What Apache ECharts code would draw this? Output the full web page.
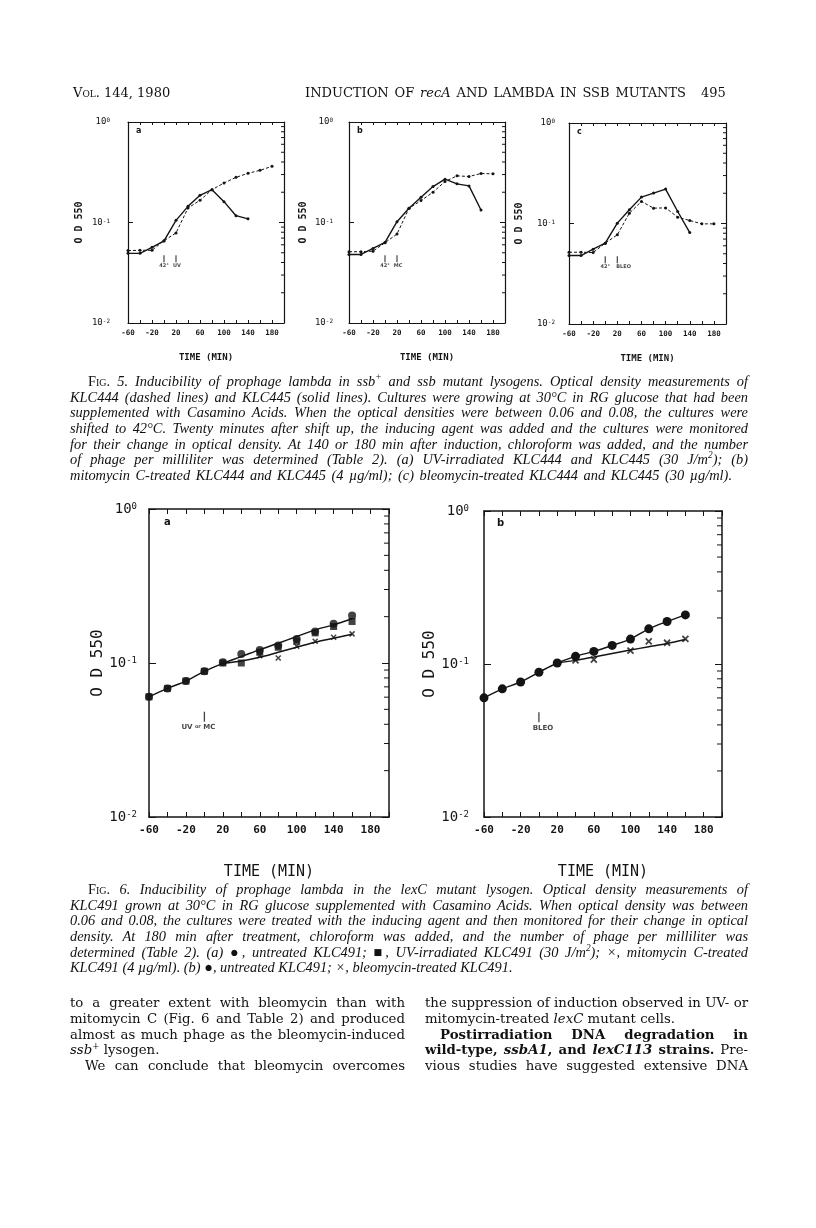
<!DOCTYPE html>
<html>
<head>
<meta charset="utf-8">
<script src="https://cdn.jsdelivr.net/npm/echarts@6/dist/echarts.min.js"></script>
<style>
  body { margin: 0; background: #fff; }
  #page { position: relative; width: 816px; height: 1228px; overflow: hidden; background: #fff; }
  #chart { position: absolute; left: 0; top: 0; width: 816px; height: 1228px; }
  .ln { position: absolute; white-space: nowrap; line-height: 16px; color: #111; text-align: justify; text-align-last: justify; }
  .end { text-align: left; text-align-last: left; }
  .cap { font-family: 'Liberation Serif', serif; font-style: italic; font-size: 14.4px; }
  .body { font-family: 'DejaVu Serif', serif; font-size: 13.3px; }
  .hd { font-family: 'DejaVu Serif', serif; font-size: 13px; }
  .sc { font-style: normal; font-variant: small-caps; }
  sup { font-size: 65%; line-height: 0; }
</style>
</head>
<body>
<div id="page">
  <div id="chart"></div>

  <div class="ln hd end" style="left:73px; top:85px;"><span style="font-variant:small-caps">Vol.</span> 144, 1980</div>
  <div class="ln hd" style="left:305px; width:381px; top:85px;">INDUCTION OF <i>recA</i> AND LAMBDA IN SSB MUTANTS</div>
  <div class="ln hd end" style="left:701px; top:85px;">495</div>

  <div class="ln cap" style="left:88px; width:660px; top:373px;"><span class="sc">Fig.</span> 5. Inducibility of prophage lambda in ssb<sup>+</sup> and ssb mutant lysogens. Optical density measurements of</div>
  <div class="ln cap" style="left:70px; width:678px; top:389px;">KLC444 (dashed lines) and KLC445 (solid lines). Cultures were growing at 30°C in RG glucose that had been</div>
  <div class="ln cap" style="left:70px; width:678px; top:404px;">supplemented with Casamino Acids. When the optical densities were between 0.06 and 0.08, the cultures were</div>
  <div class="ln cap" style="left:70px; width:678px; top:420px;">shifted to 42°C. Twenty minutes after shift up, the inducing agent was added and the cultures were monitored</div>
  <div class="ln cap" style="left:70px; width:678px; top:436px;">for their change in optical density. At 140 or 180 min after induction, chloroform was added, and the number</div>
  <div class="ln cap" style="left:70px; width:678px; top:451px;">of phage per milliliter was determined (Table 2). (a) UV-irradiated KLC444 and KLC445 (30 J/m<sup>2</sup>); (b)</div>
  <div class="ln cap" style="left:70px; width:662px; top:467px;">mitomycin C-treated KLC444 and KLC445 (4 µg/ml); (c) bleomycin-treated KLC444 and KLC445 (30 µg/ml).</div>

  <div class="ln cap" style="left:88px; width:660px; top:881px;"><span class="sc">Fig.</span> 6. Inducibility of prophage lambda in the lexC mutant lysogen. Optical density measurements of</div>
  <div class="ln cap" style="left:70px; width:678px; top:897px;">KLC491 grown at 30°C in RG glucose supplemented with Casamino Acids. When optical density was between</div>
  <div class="ln cap" style="left:70px; width:678px; top:912px;">0.06 and 0.08, the cultures were treated with the inducing agent and then monitored for their change in optical</div>
  <div class="ln cap" style="left:70px; width:678px; top:928px;">density. At 180 min after treatment, chloroform was added, and the number of phage per milliliter was</div>
  <div class="ln cap" style="left:70px; width:678px; top:944px;">determined (Table 2). (a) ●, untreated KLC491; ■, UV-irradiated KLC491 (30 J/m<sup>2</sup>); ×, mitomycin C-treated</div>
  <div class="ln cap end" style="left:70px; top:959px;">KLC491 (4 µg/ml). (b) ●, untreated KLC491; ×, bleomycin-treated KLC491.</div>

  <div class="ln body" style="left:70px; width:335px; top:995px;">to a greater extent with bleomycin than with</div>
  <div class="ln body" style="left:70px; width:335px; top:1011px;">mitomycin C (Fig. 6 and Table 2) and produced</div>
  <div class="ln body" style="left:70px; width:335px; top:1027px;">almost as much phage as the bleomycin-induced</div>
  <div class="ln body end" style="left:70px; top:1042px;"><i>ssb</i><sup>+</sup> lysogen.</div>
  <div class="ln body" style="left:85px; width:320px; top:1058px;">We can conclude that bleomycin overcomes</div>

  <div class="ln body" style="left:425px; width:323px; top:995px;">the suppression of induction observed in UV- or</div>
  <div class="ln body end" style="left:425px; top:1011px;">mitomycin-treated <i>lexC</i> mutant cells.</div>
  <div class="ln body" style="left:440px; width:308px; top:1027px; font-weight:bold;">Postirradiation DNA degradation in</div>
  <div class="ln body" style="left:425px; width:323px; top:1042px;"><b>wild-type, <i>ssbA1</i>, and <i>lexC113</i> strains.</b> Pre-</div>
  <div class="ln body" style="left:425px; width:323px; top:1058px;">vious studies have suggested extensive DNA</div>
</div>

<script>
// Fig. 5: time after shift (min) and OD550
var fig5Time = [-60, -40, -20, 0, 20, 40, 60, 80, 100, 120, 140, 160, 180];
var fig5aTimeSolid = [-60, -40, -20, 0, 20, 40, 60, 80, 100, 120, 140];
var fig5bTimeSolid = [-60, -40, -20, 0, 20, 40, 60, 80, 100, 120, 140, 160];
var fig5cTimeSolid = [-60, -40, -20, 0, 20, 40, 60, 80, 100, 120, 140];

var fig5aDashed = [0.0525, 0.0529, 0.0529, 0.0660, 0.0786, 0.1394, 0.1662, 0.2122, 0.2472, 0.2814, 0.3084, 0.3304, 0.3621];
var fig5aSolid = [0.0493, 0.0493, 0.0566, 0.0655, 0.1050, 0.1448, 0.1864, 0.2122, 0.1612, 0.1169, 0.1087];
var fig5bDashed = [0.0512, 0.0512, 0.0519, 0.0629, 0.0768, 0.1385, 0.1652, 0.2001, 0.2557, 0.2912, 0.2869, 0.3072, 0.3049];
var fig5bSolid = [0.0481, 0.0481, 0.0552, 0.0634, 0.1019, 0.1385, 0.1784, 0.2279, 0.2698, 0.2424, 0.2314, 0.1332];
var fig5cDashed = [0.0518, 0.0518, 0.0514, 0.0637, 0.0771, 0.1268, 0.1657, 0.1422, 0.1430, 0.1156, 0.1071, 0.0992, 0.0992];
var fig5cSolid = [0.0480, 0.0480, 0.0555, 0.0637, 0.1008, 0.1368, 0.1830, 0.2006, 0.2199, 0.1317, 0.0813];

// Fig. 6
var fig6Time = [-60, -40, -20, 0, 20, 40, 60, 80, 100, 120, 140, 160];
var fig6aCircle = [0.0603, 0.0684, 0.0763, 0.0883, 0.1010, 0.1145, 0.1216, 0.1297, 0.1434, 0.1601, 0.1796, 0.2035];
var fig6aSquare = [0.0603, 0.0684, 0.0763, 0.0883, 0.1000, 0.1000, 0.1174, 0.1265, 0.1385, 0.1569, 0.1726, 0.1860];
var fig6aCrossTime = [60, 80, 100, 120, 140, 160];
var fig6aCross = [0.1116, 0.1078, 0.1284, 0.1385, 0.1470, 0.1546];
var fig6aUpperLine = [0.0603, 0.0684, 0.0763, 0.0883, 0.0995, 0.1100, 0.1222, 0.1344, 0.1485, 0.1641, 0.1769, 0.1936];
var fig6LowerTime = [20, 40, 60, 80, 100, 120, 140, 160];
var fig6aLowerLine = [0.0995, 0.1030, 0.1089, 0.1174, 0.1265, 0.1364, 0.1448, 0.1538];

var fig6bCircle = [0.0601, 0.0688, 0.0763, 0.0883, 0.1015, 0.1122, 0.1209, 0.1323, 0.1455, 0.1698, 0.1895, 0.2094];
var fig6bCrossTime = [40, 60, 100, 120, 140, 160];
var fig6bCross = [0.1056, 0.1067, 0.1221, 0.1405, 0.1377, 0.1462];
var fig6bLowerLine = [0.1015, 0.1056, 0.1110, 0.1173, 0.1234, 0.1297, 0.1363, 0.1447];

// axis furniture
var xTickLabels = [-60, -20, 20, 60, 100, 140, 180];
var logMinorTicks = [0.02, 0.03, 0.04, 0.05, 0.06, 0.07, 0.08, 0.09, 0.2, 0.3, 0.4, 0.5, 0.6, 0.7, 0.8, 0.9];

var INK = '#141414';
var MONO = "'DejaVu Sans Mono', monospace";

function pairs(ts, vs) {
    return ts.map(function (t, i) { return [t, vs[i]]; });
}

var grids = [], xAxes = [], yAxes = [], series = [], graphics = [];

function addPanel(box, big, nameGapY) {
    var idx = grids.length;
    grids.push({ left: box[0], top: box[1], width: box[2], height: box[3] });
    var lw = big ? 1.5 : 1.2;
    var common = {
        gridIndex: idx, type: 'value', min: -60, max: 200, interval: 20,
        axisLine: { onZero: false, lineStyle: { color: INK, width: lw } },
        axisTick: { inside: true, length: big ? 5 : 3, lineStyle: { color: INK, width: 1 } },
        splitLine: { show: false }
    };
    xAxes.push(Object.assign({}, common, {
        position: 'bottom',
        axisLabel: {
            formatter: function (v) { return xTickLabels.indexOf(v) >= 0 ? String(v) : ''; },
            fontFamily: MONO, fontWeight: 'bold', fontSize: big ? 11 : 7.5, color: INK, margin: big ? 8 : 6
        },
        name: 'TIME (MIN)', nameLocation: 'middle', nameGap: big ? 48 : 30,
        nameTextStyle: { fontFamily: MONO, fontSize: big ? 15 : 9, fontWeight: big ? 'normal' : 'bold', color: INK }
    }));
    xAxes.push(Object.assign({}, common, { position: 'top', axisLabel: { show: false } }));
    var ycommon = {
        gridIndex: idx, type: 'log', logBase: 10, min: 0.01, max: 1,
        axisLine: { onZero: false, lineStyle: { color: INK, width: lw } },
        axisTick: { inside: true, length: big ? 7 : 5, lineStyle: { color: INK, width: 1 } },
        splitLine: { show: false }
    };
    yAxes.push(Object.assign({}, ycommon, {
        position: 'left',
        axisLabel: {
            formatter: function (v) { return '10{e|' + Math.round(Math.log(v) / Math.LN10) + '}'; },
            fontFamily: MONO, fontSize: big ? 14 : 9, color: INK, margin: box[4],
            rich: { e: { fontFamily: MONO, fontSize: big ? 9 : 6, verticalAlign: 'top', color: INK } }
        },
        name: 'O D 550', nameLocation: 'middle', nameGap: nameGapY, nameRotate: 90,
        nameTextStyle: { fontFamily: MONO, fontSize: big ? 16 : 10, fontWeight: big ? 'normal' : 'bold', color: INK }
    }));
    yAxes.push(Object.assign({}, ycommon, { position: 'right', axisLabel: { show: false } }));
    // minor log ticks on the right edge
    var mlen = big ? 5 : 3;
    series.push({
        type: 'custom', xAxisIndex: 2 * idx, yAxisIndex: 2 * idx, silent: true,
        data: logMinorTicks.map(function (v) { return [-60, v]; }),
        renderItem: function (params, api) {
            var cs = params.coordSys;
            var y = api.coord([-60, api.value(1)])[1];
            return {
                type: 'line',
                shape: { x1: cs.x + cs.width - mlen, y1: y, x2: cs.x + cs.width, y2: y },
                style: { stroke: INK, lineWidth: 1 }
            };
        }
    });
    return idx;
}

function topPanel(box, gap, dashed, solidT, solid, agent, letter) {
    var i = addPanel(box, false, gap);
    series.push({
        type: 'line', xAxisIndex: 2 * i, yAxisIndex: 2 * i, data: pairs(fig5Time, dashed),
        symbol: 'circle', symbolSize: 3, itemStyle: { color: INK },
        lineStyle: { color: INK, width: 1, type: [3, 2] }, z: 3
    });
    series.push({
        type: 'line', xAxisIndex: 2 * i, yAxisIndex: 2 * i, data: pairs(solidT, solid),
        symbol: 'circle', symbolSize: 3, itemStyle: { color: INK },
        lineStyle: { color: INK, width: 1.4 }, z: 4
    });
    // shift-up and inducer marks
    series.push({
        type: 'scatter', xAxisIndex: 2 * i, yAxisIndex: 2 * i,
        symbol: 'rect', symbolSize: [1.2, 7], itemStyle: { color: INK },
        data: [
            { value: [0, 0.0436], label: { formatter: '42°' } },
            { value: [20, 0.0436], label: { formatter: agent, align: agent.length > 2 ? 'left' : 'center', offset: agent.length > 2 ? [-1, 0] : [1, 0] } }
        ],
        label: { show: true, position: 'bottom', distance: 1, fontFamily: 'DejaVu Sans', fontWeight: 'bold', fontSize: 5, color: INK }
    });
    graphics.push({ type: 'text', left: box[0] + 8, top: box[1] + 5, style: { text: letter, font: "bold 8px 'DejaVu Sans'", fill: INK } });
}

topPanel([128, 122, 156, 201, 18], 44, fig5aDashed, fig5aTimeSolid, fig5aSolid, 'UV', 'a');
topPanel([349, 122, 156, 201, 16], 41, fig5bDashed, fig5bTimeSolid, fig5bSolid, 'MC', 'b');
topPanel([569, 123, 157, 201, 14], 45, fig5cDashed, fig5cTimeSolid, fig5cSolid, 'BLEO', 'c');

var crossPath = 'path://M0,0L10,10M10,0L0,10';

// Fig. 6a
var a6 = addPanel([149, 509, 240, 308, 12], 68, true);
series.push(
    { type: 'line', xAxisIndex: 2 * a6, yAxisIndex: 2 * a6, data: pairs(fig6Time, fig6aUpperLine), showSymbol: false, smooth: 0.3, lineStyle: { color: INK, width: 1.5 } },
    { type: 'line', xAxisIndex: 2 * a6, yAxisIndex: 2 * a6, data: pairs(fig6LowerTime, fig6aLowerLine), showSymbol: false, smooth: 0.3, lineStyle: { color: INK, width: 1.5 } },
    { type: 'scatter', xAxisIndex: 2 * a6, yAxisIndex: 2 * a6, data: pairs(fig6Time, fig6aSquare), symbol: 'rect', symbolSize: 7, itemStyle: { color: INK } },
    { type: 'scatter', xAxisIndex: 2 * a6, yAxisIndex: 2 * a6, data: pairs(fig6Time, fig6aCircle), symbol: 'circle', symbolSize: 8, itemStyle: { color: INK } },
    { type: 'scatter', xAxisIndex: 2 * a6, yAxisIndex: 2 * a6, data: pairs(fig6aCrossTime, fig6aCross), symbol: crossPath, symbolSize: 5, itemStyle: { color: 'none', borderColor: INK, borderWidth: 1.5 } },
    {
        type: 'scatter', xAxisIndex: 2 * a6, yAxisIndex: 2 * a6, symbol: 'rect', symbolSize: [1.3, 10], itemStyle: { color: INK },
        data: [{ value: [0, 0.0448] }],
        label: {
            show: true, position: 'bottom', distance: 2, offset: [-6, 0], formatter: 'UV {o|or} MC',
            fontFamily: 'DejaVu Sans', fontWeight: 'bold', fontSize: 7, color: INK,
            rich: { o: { fontSize: 5, verticalAlign: 'top', fontFamily: 'DejaVu Sans', fontWeight: 'bold' } }
        }
    }
);
graphics.push({ type: 'text', left: 164, top: 517, style: { text: 'a', font: "bold 10px 'DejaVu Sans'", fill: INK } });

// Fig. 6b
var b6 = addPanel([484, 511, 238, 306, 15], 73, true);
series.push(
    { type: 'line', xAxisIndex: 2 * b6, yAxisIndex: 2 * b6, data: pairs(fig6Time, fig6bCircle), symbol: 'circle', symbolSize: 9, smooth: 0.3, itemStyle: { color: INK }, lineStyle: { color: INK, width: 1.5 } },
    { type: 'line', xAxisIndex: 2 * b6, yAxisIndex: 2 * b6, data: pairs(fig6LowerTime, fig6bLowerLine), showSymbol: false, smooth: 0.3, lineStyle: { color: INK, width: 1.5 } },
    { type: 'scatter', xAxisIndex: 2 * b6, yAxisIndex: 2 * b6, data: pairs(fig6bCrossTime, fig6bCross), symbol: crossPath, symbolSize: 6, itemStyle: { color: 'none', borderColor: INK, borderWidth: 1.8 } },
    {
        type: 'scatter', xAxisIndex: 2 * b6, yAxisIndex: 2 * b6, symbol: 'rect', symbolSize: [1.3, 10], itemStyle: { color: INK },
        data: [{ value: [0, 0.0448] }],
        label: { show: true, position: 'bottom', distance: 2, offset: [4, 0], formatter: 'BLEO', fontFamily: 'DejaVu Sans', fontWeight: 'bold', fontSize: 7, color: INK }
    }
);
graphics.push({ type: 'text', left: 497, top: 518, style: { text: 'b', font: "bold 10px 'DejaVu Sans'", fill: INK } });

var chart = echarts.init(document.getElementById('chart'));
chart.setOption({
    animation: false,
    backgroundColor: 'transparent',
    grid: grids,
    xAxis: xAxes,
    yAxis: yAxes,
    series: series,
    graphic: graphics
});
</script>
</body>
</html>
